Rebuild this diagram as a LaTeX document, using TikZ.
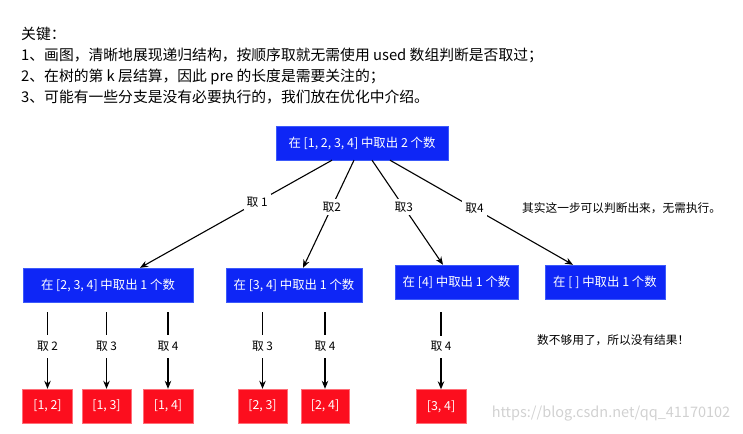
\documentclass[tikz,border=0pt]{standalone}
\usepackage{fontspec}
\setmainfont{Noto Sans CJK SC}
\usetikzlibrary{arrows.meta,calc}
\definecolor{boxblue}{RGB}{14,38,246}
\definecolor{boxblueline}{RGB}{60,90,250}
\definecolor{boxred}{RGB}{252,14,30}
\definecolor{boxredline}{RGB}{255,110,120}
\begin{document}
\begin{tikzpicture}[x=1pt,y=-1pt,
  bluebox/.style={draw=boxblueline,fill=boxblue,text=white,minimum height=34pt,inner sep=0pt,font=\fontsize{12.4}{14}\selectfont},
  redbox/.style={draw=boxredline,fill=boxred,text=white,minimum width=49pt,minimum height=34pt,inner sep=0pt,font=\fontsize{12.4}{14}\selectfont},
  edge/.style={line width=1.1pt,-{Stealth[length=8pt,width=6.5pt]}},
  lbl/.style={fill=white,inner xsep=3pt,inner ysep=3pt,font=\fontsize{11.8}{13}\selectfont},
  vlbl/.style={fill=white,inner xsep=3pt,inner ysep=6pt,font=\fontsize{11.8}{13}\selectfont},
  note/.style={anchor=west,inner sep=0pt,font=\fontsize{11.7}{13}\selectfont},
  keytext/.style={anchor=west,inner sep=0pt,font=\fontsize{14.8}{17}\selectfont}]
\useasboundingbox (0,0) rectangle (743,433);

% key text
\node[keytext] (k0) at (21,34) {关键：};
\node[keytext] (k1) at (21,55) {1、画图，清晰地展现递归结构，按顺序取就无需使用 used 数组判断是否取过；};
\node[keytext] (k2) at (21,77) {2、在树的第 k 层结算，因此 pre 的长度是需要关注的；};
\node[keytext] (k3) at (21,97) {3、可能有一些分支是没有必要执行的，我们放在优化中介绍。};

% root
\node[bluebox,minimum width=172pt] (root) at (362,143) {在 [1, 2, 3, 4] 中取出 2 个数};

% level 1
\node[bluebox,minimum width=170pt] (c1) at (108,285) {在 [2, 3, 4] 中取出 1 个数};
\node[bluebox,minimum width=136pt] (c2) at (294,285) {在 [3, 4] 中取出 1 个数};
\node[bluebox,minimum width=123pt] (c3) at (456.5,282) {在 [4] 中取出 1 个数};
\node[bluebox,minimum width=120pt] (c4) at (605,282) {在 [ ] 中取出 1 个数};

\draw[edge] ($(root.south)+(-30,0)$) -- node[lbl,pos=0.39]{取 1} ($(c1.north)+(32,0)$);
\draw[edge] ($(root.south)+(-8,0)$) -- node[lbl,pos=0.435]{取2} ($(c2.north)+(9,0)$);
\draw[edge] ($(root.south)+(10,0)$) -- node[lbl,pos=0.448]{取3} ($(c3.north)+(-13.5,0)$);
\draw[edge] ($(root.south)+(28,0)$) -- node[lbl,pos=0.462]{取4} ($(c4.north)+(-32,0)$);

\node[note] (n1) at (522,208) {其实这一步可以判断出来，无需执行。};
\node[note] (n2) at (537,340) {数不够用了，所以没有结果！};

% leaves
\node[redbox,minimum width=50pt] (l12) at (47.5,406) {[1, 2]};
\node[redbox] (l13) at (106.5,406) {[1, 3]};
\node[redbox,minimum width=50pt] (l14) at (168,406) {[1, 4]};
\node[redbox] (l23) at (262.5,406) {[2, 3]};
\node[redbox,minimum width=48pt] (l24) at (325,406) {[2, 4]};
\node[redbox,minimum width=50pt] (l34) at (441,406.5) {[3, 4]};

\coordinate (s12) at (47.5,312);
\coordinate (s13) at (106.5,312);
\coordinate (s14) at (168,312);
\coordinate (s23) at (262.5,312);
\coordinate (s24) at (325,312);
\coordinate (s34) at (441,312);

\draw[edge] (s12) -- node[vlbl,pos=0.45]{取 2} (l12.north);
\draw[edge] (s13) -- node[vlbl,pos=0.45]{取 3} (l13.north);
\draw[edge] (s14) -- node[vlbl,pos=0.45]{取 4} (l14.north);
\draw[edge] (s23) -- node[vlbl,pos=0.45]{取 3} (l23.north);
\draw[edge] (s24) -- node[vlbl,pos=0.45]{取 4} (l24.north);
\draw[edge] (s34) -- node[vlbl,pos=0.45]{取 4} (l34.north);

% watermark
\node[inner sep=0pt,text=black!18,font=\fontsize{14.5}{16}\selectfont] (wm) at (611,414) {https://blog.csdn.net/qq\_41170102};
\end{tikzpicture}
\end{document}
